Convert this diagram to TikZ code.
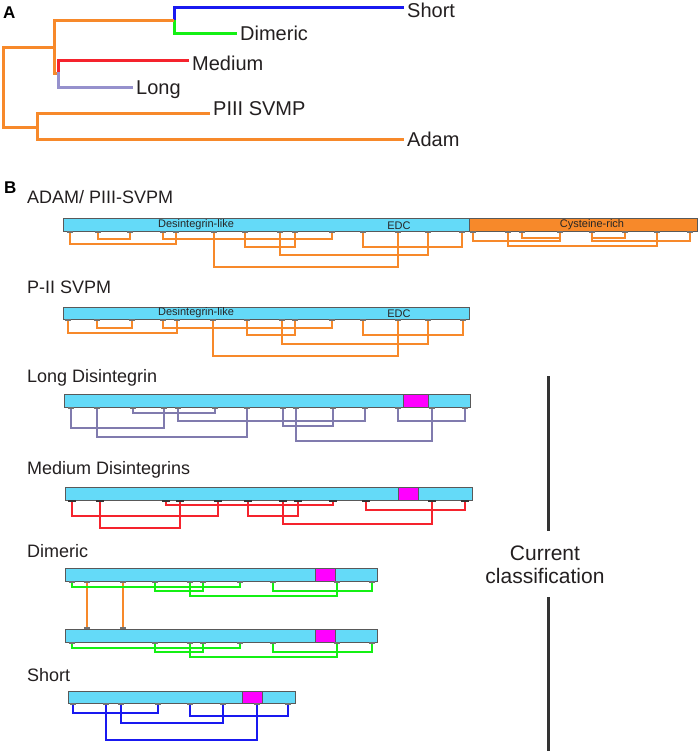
\documentclass[tikz,border=0pt]{standalone}
\usepackage{fontspec}
\setmainfont{Liberation Sans}

\definecolor{barblue}{RGB}{100,218,248}
\definecolor{ssorange}{RGB}{247,137,42}
\definecolor{ssgreen}{RGB}{20,240,20}
\definecolor{ssred}{RGB}{245,35,45}
\definecolor{ssblue}{RGB}{25,25,240}
\definecolor{sslav}{RGB}{150,145,205}
\definecolor{ssmag}{RGB}{255,0,255}
\definecolor{txtgrey}{RGB}{35,31,32}

\tikzset{
  branch/.style={line width=3pt},
  leaf/.style={anchor=base west, inner sep=3pt, text=txtgrey, font=\fontsize{20}{22}\selectfont},
  title/.style={anchor=base west, inner sep=0pt, text=txtgrey, font=\fontsize{18}{20}\selectfont},
  panel/.style={anchor=base west, inner sep=0pt, font=\fontsize{17}{19}\selectfont\bfseries},
  protein/.style={draw=black!65, line width=0.8pt, fill=barblue},
  loop/.style={draw=black!65, line width=0.8pt, fill=ssmag},
  domlabel/.style={inner sep=0pt, text=black!85, font=\fontsize{11}{12}\selectfont},
  cys/.style={fill=black!55},
  bond/.style={line width=2pt},
  divider/.style={line width=3pt, black!80}
}

\begin{document}
\begin{tikzpicture}[x=1pt, y=-1pt]
\useasboundingbox (0,0) rectangle (699,753);
% A: tree
\node[panel] (labA) at (3,18) {A};
\node[leaf] (short) at (404,17) {Short};
\node[leaf] (dimeric) at (237,40) {Dimeric};
\node[leaf] (medium) at (189,70) {Medium};
\node[leaf] (long) at (133,94) {Long};
\node[leaf] (p3) at (210,115) {PIII SVMP};
\node[leaf] (adam) at (404,146) {Adam};
\draw[branch, ssblue] (174,20) -- (174,7) -- (short.west |- 0,7);
\draw[branch, ssgreen] (174,20) -- (174,33) -- (dimeric.west |- 0,33);
\draw[branch, ssorange] (58,73) -- (54,73) -- (54,20) -- (174,20);
\draw[branch, ssred] (58,72) -- (58,60) -- (medium.west |- 0,60);
\draw[branch, sslav] (58,72) -- (58,87) -- (long.west |- 0,87);
\draw[branch, ssorange] (54,47) -- (3,47) -- (3,127) -- (37,127);
\draw[branch, ssorange] (p3.west |- 0,113) -| (37,139) -- (adam.west |- 0,139);

% B: domains
\node[panel] (labB) at (4,193) {B};
\node[title] (tadam) at (27,203) {ADAM/ PIII-SVPM};
\node[title] (tp2) at (27,293) {P-II SVPM};
\node[title] (tlong) at (27,382) {Long Disintegrin};
\node[title] (tmed) at (27,474) {Medium Disintegrins};
\node[title] (tdim) at (27,557) {Dimeric};
\node[title] (tshort) at (27,681) {Short};

% ADAM / PIII
\draw[protein] (63,218) rectangle (469,231);
\draw[protein, fill=ssorange] (469,218) rectangle (697,231);
\node[domlabel] (dis1) at (196,224.5) {Desintegrin-like};
\node[domlabel] (edc1) at (399,225.5) {EDC};
\node[domlabel] (cysrich) at (592,224.5) {Cysteine-rich};
\foreach \a/\b/\d in {70/176/13, 98/130/8, 163/332/8, 245/295/16, 280/428/24, 214/398/36, 363/462/16,
  473/560/10, 522/560/7, 592/690/10, 592/625/7, 508/657/15}
  \draw[bond, ssorange] (\a,231) |- (\b,231+\d) -- (\b,231);
\foreach \x in {70,98,130,163,176,214,245,280,295,332,363,398,428,462,473,508,522,560,592,625,657,690}
  \fill[cys] (\x-3,231) rectangle (\x+3,233);

% P-II
\draw[protein] (63,307) rectangle (469,319);
\node[domlabel] (dis2) at (196,313) {Desintegrin-like};
\node[domlabel] (edc2) at (399,314) {EDC};
\foreach \a/\b/\d in {68/177/14, 97/132/9, 163/332/9, 247/295/16, 282/428/25, 213/398/37, 363/463/16}
  \draw[bond, ssorange] (\a,319) |- (\b,319+\d) -- (\b,319);
\foreach \x in {68,97,132,163,177,213,247,282,295,332,363,398,428,463}
  \fill[cys] (\x-3,319) rectangle (\x+3,321);

% long
\draw[protein] (64,394) rectangle (470,407);
\draw[loop] (403,394) rectangle (428,407);
\foreach \a/\b/\d in {71/164/21, 97/247/30, 133/215/6, 178/365/14, 283/333/19, 296/432/34, 398/465/14}
  \draw[bond, sslav!85!black] (\a,407) |- (\b,407+\d) -- (\b,407);
\foreach \x in {71,97,133,164,178,215,247,283,296,333,365,398,432,465}
  \fill[cys] (\x-3,407) rectangle (\x+3,409);

% medium
\draw[protein] (65,487) rectangle (472,500);
\draw[loop] (398,487) rectangle (418,500);
\foreach \a/\b/\d in {72/218/16, 100/180/28, 166/333/5, 248/298/16, 283/432/24, 366/465/10}
  \draw[bond, ssred] (\a,500) |- (\b,500+\d) -- (\b,500);
\foreach \x in {72,100,166,180,218,248,283,298,333,366,432,465}
  \fill[cys, black!80] (\x-4,500) rectangle (\x+4,502);

% dimeric
\draw[protein] (65,568) rectangle (377,581);
\draw[loop] (315,568) rectangle (335,581);
\draw[protein] (65,629) rectangle (377,642);
\draw[loop] (315,629) rectangle (335,642);
\draw[bond, ssorange, line width=1.5pt] (87,581) -- (87,629) (123,581) -- (123,629);
\foreach \y in {581,642} {
  \foreach \a/\b/\d in {72/240/6, 155/203/10, 190/337/15, 273/372/10}
    \draw[bond, ssgreen] (\a,\y) |- (\b,\y+\d) -- (\b,\y);
  \foreach \x in {72,155,190,203,240,273,337,372}
    \fill[cys] (\x-3,\y) rectangle (\x+3,\y+2);
}
\foreach \x in {87,123} {
  \fill[cys] (\x-3,581) rectangle (\x+3,583);
  \fill[cys] (\x-3,627) rectangle (\x+3,629);
}

% short
\draw[protein] (68,691) rectangle (295,703);
\draw[loop] (242,691) rectangle (262,703);
\foreach \a/\b/\d in {73/158/10, 121/223/20, 106/257/37, 190/288/13}
  \draw[bond, ssblue] (\a,703) |- (\b,703+\d) -- (\b,703);
\foreach \x in {73,106,121,158,190,223,257,288}
  \fill[cys] (\x-3,703) rectangle (\x+3,705);

% classification bracket
\node[align=center, text=txtgrey, font=\fontsize{21}{23}\selectfont] (cc) at (545,565) {Current\\classification};
\draw[divider] (548,376) -- (548,531) (548,597) -- (548,751);
\end{tikzpicture}
\end{document}
